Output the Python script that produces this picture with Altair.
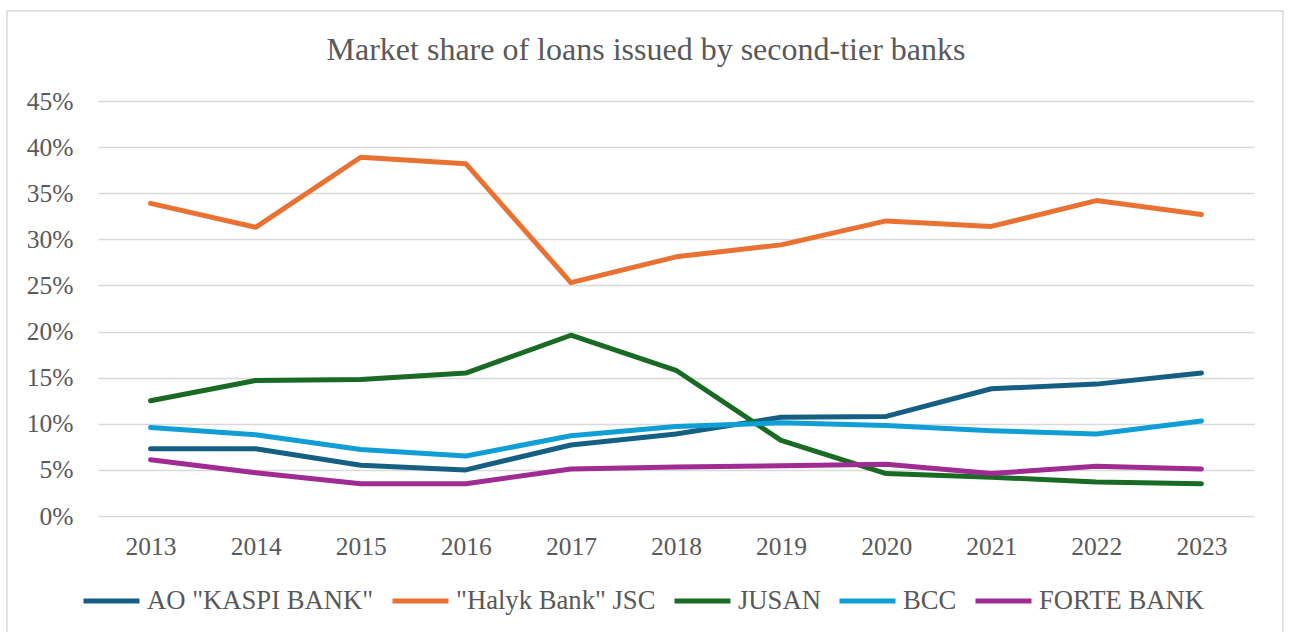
import altair as alt
import pandas as pd

years = ["2013", "2014", "2015", "2016", "2017", "2018", "2019", "2020", "2021", "2022", "2023"]
kaspi = [7.3, 7.3, 5.5, 5.0, 7.7, 8.9, 10.7, 10.8, 13.8, 14.3, 15.5]
halyk = [33.9, 31.3, 38.9, 38.2, 25.3, 28.1, 29.4, 32.0, 31.4, 34.2, 32.7]
jusan = [12.5, 14.7, 14.8, 15.5, 19.6, 15.8, 8.2, 4.6, 4.2, 3.7, 3.5]
bcc = [9.6, 8.8, 7.2, 6.5, 8.7, 9.7, 10.1, 9.8, 9.25, 8.9, 10.3]
forte = [6.1, 4.7, 3.5, 3.5, 5.1, 5.3, 5.45, 5.6, 4.6, 5.4, 5.1]

series_names = ['AO "KASPI BANK"', '"Halyk Bank" JSC', "JUSAN", "BCC", "FORTE BANK"]
series_values = [kaspi, halyk, jusan, bcc, forte]
colors = ["#156082", "#E97132", "#196B24", "#0F9ED5", "#A02B93"]
y_ticks = [0, 0.05, 0.10, 0.15, 0.20, 0.25, 0.30, 0.35, 0.40, 0.45]
title_text = ["Market share of loans issued by second-tier banks"]

rows = []
for name, vals in zip(series_names, series_values):
    for yr, v in zip(years, vals):
        rows.append({"year": yr, "bank": name, "share": v / 100.0})
df = pd.DataFrame(rows)

FONT = "Liberation Serif"
TXT = "#595959"

lines = alt.Chart(df).mark_line(strokeWidth=5, strokeCap="round", strokeJoin="round").encode(
    x=alt.X("year:O", title=None, sort=years,
            axis=alt.Axis(labelAngle=0, labelPadding=18, domain=False, ticks=False, grid=False,
                          labelFont=FONT, labelFontSize=25.5, labelColor=TXT)),
    y=alt.Y("share:Q", title=None,
            scale=alt.Scale(domain=[0, 0.45], nice=False),
            axis=alt.Axis(values=y_ticks, format=".0%", labelPadding=25, domain=False,
                          ticks=False, grid=True, gridColor="#D9D9D9", gridWidth=1.5,
                          labelFont=FONT, labelFontSize=25.5, labelColor=TXT)),
    color=alt.Color("bank:N", sort=series_names,
                    scale=alt.Scale(domain=series_names, range=colors),
                    legend=alt.Legend(title=None, orient="none", direction="horizontal",
                                      columns=5, legendX=-17, legendY=469,
                                      symbolType="stroke", symbolSize=3136,
                                      symbolStrokeWidth=5, labelOffset=5,
                                      columnPadding=8, labelLimit=0,
                                      labelFont=FONT, labelFontSize=26.67, labelColor=TXT)),
)

border = alt.Chart(pd.DataFrame({"a": [0]})).mark_rect(
    fill=None, stroke="#D9D9D9", strokeWidth=1.5
).encode(
    x=alt.value(-91), x2=alt.value(1185), y=alt.value(-90), y2=alt.value(545)
)

title = alt.Chart(pd.DataFrame({"t": title_text})).mark_text(
    font=FONT, fontSize=32, color=TXT, align="center", baseline="middle"
).encode(
    text="t:N", x=alt.value(548), y=alt.value(-51)
)

chart = alt.layer(border, lines, title).properties(
    width=1156,
    height=415,
    padding={"left": 98, "top": 101, "right": 35, "bottom": 116},
    autosize=alt.AutoSizeParams(type="none"),
).configure_view(stroke=None)

chart.save("out.html", embed_options={"renderer": "svg", "actions": False})
